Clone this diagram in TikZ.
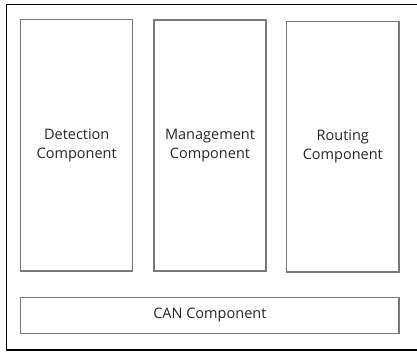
\documentclass[tikz,border=0pt]{standalone}
\usepackage{fontspec}
\setmainfont{Open Sans}
\begin{document}
\begin{tikzpicture}[x=1pt,y=-1pt,
  comp/.style={draw=gray!95!black, line width=1.4pt, fill=white, inner sep=0pt,
    align=center, font=\fontsize{14.5}{19}\selectfont, text=black!85},
  frame/.style={draw=black, line width=1.2pt}]
\useasboundingbox (0,0) rectangle (417,353);
\draw[frame] (6.7,4.3) rectangle (420,350);
\node[comp, minimum width=112pt, minimum height=251.5pt] (det) at (76.7,145.2) {Detection\\Component};
\node[comp, minimum width=112pt, minimum height=251pt] (man) at (210,145.5) {Management\\Component};
\node[comp, minimum width=112.3pt, minimum height=250.5pt] (rou) at (342.8,146.9) {Routing\\Component};
\node[comp, minimum width=378.3pt, minimum height=36pt] (can) at (209.85,315.3) {CAN Component};
\end{tikzpicture}
\end{document}
